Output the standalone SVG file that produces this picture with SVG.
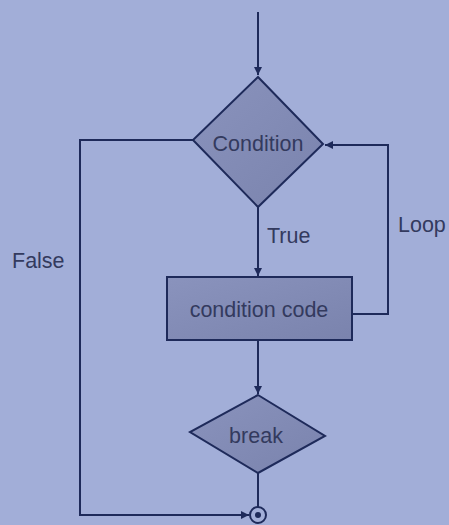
<svg xmlns="http://www.w3.org/2000/svg" width="449" height="525" viewBox="0 0 449 525">
<defs>
<marker id="ah" viewBox="0 0 10 10" refX="10" refY="5" markerWidth="8" markerHeight="8" orient="auto" markerUnits="userSpaceOnUse">
<path d="M0,0 L10,5 L0,10 z" fill="#1e2a5a"/>
</marker>
<linearGradient id="g" x1="0" y1="0" x2="1" y2="1">
<stop offset="0" stop-color="#8a93bd"/>
<stop offset="1" stop-color="#7a83ad"/>
</linearGradient>
</defs>
<style>
.shape{fill:url(#g);stroke:#1e2a5a;stroke-width:2}
.line{fill:none;stroke:#1e2a5a;stroke-width:2}
text{font-family:"Liberation Sans",Arial,sans-serif;font-size:21.5px;fill:#333a5e}
.c{text-anchor:middle}
</style>
<rect x="0" y="0" width="449" height="525" fill="#a2aed8"/>
<g id="connectors">
<path class="line" d="M258,12 V75" marker-end="url(#ah)"/>
<path class="line" d="M258,207 V276" marker-end="url(#ah)"/>
<path class="line" d="M258,340 V394" marker-end="url(#ah)"/>
<path class="line" d="M258,473 V507"/>
<path class="line" d="M352,314 H388 V145 H325" marker-end="url(#ah)"/>
<path class="line" d="M193,140 H80 V515 H249" marker-end="url(#ah)"/>
</g>
<g id="condition">
<polygon class="shape" points="258,77 323,144 258,207 193,140"/>
<text class="c" x="258" y="151">Condition</text>
</g>
<g id="code">
<rect class="shape" x="167" y="277" width="185" height="63"/>
<text class="c" x="259" y="317">condition code</text>
</g>
<g id="break">
<polygon class="shape" points="258,395 325,436 258,473 190,432"/>
<text class="c" x="256" y="443">break</text>
</g>
<g id="end">
<circle cx="258" cy="515" r="8" fill="#a2aed8" stroke="#1e2a5a" stroke-width="2"/>
<circle cx="258" cy="515" r="3" fill="#1e2a5a"/>
</g>
<g id="labels">
<text x="267" y="243">True</text>
<text x="398" y="232">Loop</text>
<text x="12" y="268">False</text>
</g>
</svg>
